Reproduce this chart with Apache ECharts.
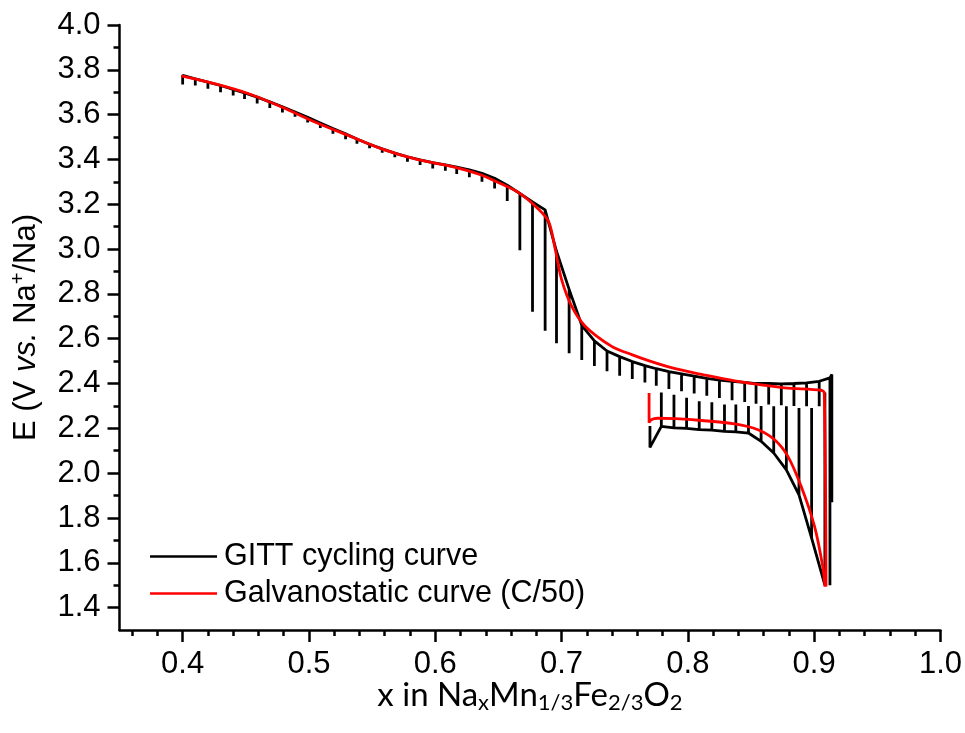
<!DOCTYPE html>
<html>
<head>
<meta charset="utf-8">
<script src="https://cdn.jsdelivr.net/npm/echarts@6/dist/echarts.min.js"></script>
<style>
  html, body { margin: 0; padding: 0; background: #fff; }
  #main { width: 965px; height: 733px; }
</style>
</head>
<body>
<div id="main"></div>
<script>
// GITT charge branch (x decreasing while charging): step positions, end-of-pulse voltage, relaxed voltage
var upX   = [0.400, 0.410, 0.420, 0.430, 0.440, 0.449, 0.459, 0.469, 0.479, 0.489,
             0.499, 0.509, 0.519, 0.529, 0.538, 0.548, 0.558, 0.568, 0.578, 0.588,
             0.598, 0.608, 0.617, 0.627, 0.637, 0.647, 0.657, 0.667, 0.677, 0.687,
             0.696, 0.706, 0.716, 0.726, 0.736, 0.746, 0.756, 0.766, 0.775, 0.785,
             0.795, 0.805, 0.815, 0.825, 0.835, 0.845, 0.854, 0.864, 0.874, 0.884,
             0.894, 0.904, 0.9125, 0.914];
var upTop = [3.775, 3.760, 3.745, 3.730, 3.713, 3.697, 3.678, 3.657, 3.635, 3.612,
             3.588, 3.563, 3.538, 3.514, 3.491, 3.468, 3.447, 3.428, 3.412, 3.398,
             3.386, 3.376, 3.366, 3.354, 3.338, 3.316, 3.285, 3.248, 3.210, 3.175,
             2.990, 2.820, 2.660, 2.590, 2.545, 2.520, 2.498, 2.480, 2.466, 2.453,
             2.443, 2.433, 2.423, 2.415, 2.410, 2.405, 2.400, 2.400, 2.398, 2.400,
             2.403, 2.410, 2.425, 2.440];
var upBot = [3.735, 3.730, 3.715, 3.700, 3.685, 3.670, 3.650, 3.630, 3.610, 3.590,
             3.565, 3.540, 3.515, 3.490, 3.470, 3.450, 3.430, 3.410, 3.390, 3.375,
             3.360, 3.350, 3.335, 3.320, 3.300, 3.270, 3.215, 2.995, 2.720, 2.635,
             2.580, 2.535, 2.505, 2.478, 2.455, 2.435, 2.420, 2.405, 2.390, 2.375,
             2.365, 2.355, 2.345, 2.335, 2.325, 2.318, 2.310, 2.306, 2.303, 2.300,
             2.298, 2.298, 1.500, 1.870];

// GITT discharge branch starting from x = 0.77
var loX   = [0.770, 0.779, 0.789, 0.799, 0.809, 0.819, 0.829, 0.838, 0.848, 0.858,
             0.868, 0.878, 0.888, 0.898, 0.9085];
var loTop = [2.210, 2.360, 2.350, 2.336, 2.321, 2.316, 2.306, 2.306, 2.300, 2.300,
             2.298, 2.298, 2.291, 2.291, 2.360];
var loBot = [2.115, 2.209, 2.202, 2.200, 2.194, 2.192, 2.186, 2.184, 2.179, 2.142,
             2.090, 2.015, 1.903, 1.710, 1.500];

// galvanostatic C/50 curves
var galvX1 = [0.399, 0.4267, 0.453, 0.4793, 0.5056, 0.532, 0.5582, 0.5846, 0.611, 0.6346,
              0.6487, 0.666, 0.682, 0.690, 0.695, 0.700, 0.708, 0.7187, 0.7397, 0.7556,
              0.770, 0.790, 0.810, 0.837, 0.8766, 0.9055, 0.908, 0.9094];
var galvY1 = [3.773, 3.736, 3.692, 3.632, 3.565, 3.505, 3.446, 3.401, 3.371, 3.334,
              3.300, 3.252, 3.177, 3.120, 2.999, 2.865, 2.745, 2.656, 2.566, 2.529,
              2.500, 2.466, 2.442, 2.412, 2.381, 2.370, 2.358, 1.494];
var galvX2 = [0.7693, 0.7693, 0.771, 0.776, 0.790, 0.8108, 0.837, 0.8555, 0.8687, 0.8792,
              0.8897, 0.9003, 0.9068, 0.9086];
var galvY2 = [2.358, 2.225, 2.238, 2.245, 2.243, 2.235, 2.220, 2.194, 2.149, 2.075,
              1.941, 1.762, 1.583, 1.494];

var xMajor = [0.4, 0.5, 0.6, 0.7, 0.8, 0.9, 1.0];
var xMinor = [0.36, 0.38, 0.42, 0.44, 0.46, 0.48, 0.52, 0.54, 0.56, 0.58, 0.62, 0.64, 0.66, 0.68,
              0.72, 0.74, 0.76, 0.78, 0.82, 0.84, 0.86, 0.88, 0.92, 0.94, 0.96, 0.98];
var yMajor = [1.4, 1.6, 1.8, 2.0, 2.2, 2.4, 2.6, 2.8, 3.0, 3.2, 3.4, 3.6, 3.8, 4.0];
var yMinor = [1.5, 1.7, 1.9, 2.1, 2.3, 2.5, 2.7, 2.9, 3.1, 3.3, 3.5, 3.7, 3.9];

function zip(xs, ys) {
  var out = [];
  for (var i = 0; i < xs.length; i++) out.push([xs[i], ys[i]]);
  return out;
}

// comb: envelope with the relaxation drawn as a vertical at each step
function upperPath() {
  var out = [];
  for (var i = 0; i < upX.length; i++) {
    out.push([upX[i], upTop[i]]);
    out.push([upX[i], upBot[i]]);
    out.push([upX[i], upTop[i]]);
  }
  return out;
}
function lowerPath() {
  var out = [];
  for (var i = 0; i < loX.length; i++) {
    out.push([loX[i], loBot[i]]);
    out.push([loX[i], loTop[i]]);
    out.push([loX[i], loBot[i]]);
  }
  return out;
}

var FONT = 'Liberation Sans, Arial, sans-serif';
var chart = echarts.init(document.getElementById('main'));

var axisCommon = {
  type: 'value',
  splitLine: { show: false },
  axisLine: { show: true, onZero: false, lineStyle: { color: '#000', width: 2.5 } }
};

var option = {
  animation: false,
  backgroundColor: '#fff',
  grid: { left: 119.5, right: 24.3, top: 25, bottom: 103 },
  legend: {
    orient: 'vertical',
    left: 145,
    top: 536,
    icon: 'rect',
    itemWidth: 67,
    itemHeight: 2.5,
    itemGap: 6,
    data: ['GITT cycling curve', 'Galvanostatic curve (C/50)'],
    textStyle: { fontFamily: FONT, fontSize: 30.5, color: '#000', padding: [0, 0, 0, 2] }
  },
  xAxis: [
    Object.assign({}, axisCommon, {
      min: 0.35, max: 1.0,
      position: 'bottom',
      axisTick: { show: true, length: 12, lineStyle: { color: '#000', width: 2.5 }, customValues: xMajor },
      axisLabel: { show: true, margin: 19, fontFamily: FONT, fontSize: 31, color: '#000',
                   customValues: xMajor, formatter: function (v) { return v.toFixed(1); } },
      name: '{t|x in Na}{s|x}{t|Mn}{s|1/3}{t|Fe}{s|2/3}{t|O}{s|2}',
      nameLocation: 'middle',
      nameMoveOverlap: false,
      nameGap: 46,
      nameTextStyle: {
        rich: {
          t: { fontFamily: 'Lato, sans-serif', fontSize: 33, color: '#000' },
          s: { fontFamily: 'Lato, sans-serif', fontSize: 22, color: '#000', padding: [16, 0, 0, 0] }
        }
      }
    }),
    Object.assign({}, axisCommon, {
      min: 0.35, max: 1.0,
      position: 'bottom',
      axisLine: { show: false },
      axisTick: { show: true, length: 6, lineStyle: { color: '#000', width: 2.5 }, customValues: xMinor },
      axisLabel: { show: false }
    })
  ],
  yAxis: [
    Object.assign({}, axisCommon, {
      min: 1.3, max: 4.0,
      position: 'left',
      axisTick: { show: true, length: 12, lineStyle: { color: '#000', width: 2.5 }, customValues: yMajor },
      axisLabel: { show: true, margin: 19, fontFamily: FONT, fontSize: 31, color: '#000',
                   customValues: yMajor, formatter: function (v) { return v.toFixed(1); } },
      name: '{t|E (V }{i|vs.}{t| Na}{p|+}{t|/Na)}',
      nameLocation: 'middle',
      nameRotate: 90,
      nameGap: 76,
      nameTextStyle: {
        rich: {
          t: { fontFamily: FONT, fontSize: 31, color: '#000' },
          i: { fontFamily: FONT, fontSize: 31, color: '#000', fontStyle: 'italic' },
          p: { fontFamily: FONT, fontSize: 20, color: '#000', padding: [0, 0, 15, 0] }
        }
      }
    }),
    Object.assign({}, axisCommon, {
      min: 1.3, max: 4.0,
      position: 'left',
      axisLine: { show: false },
      axisTick: { show: true, length: 6, lineStyle: { color: '#000', width: 2.5 }, customValues: yMinor },
      axisLabel: { show: false }
    })
  ],
  series: [
    {
      name: 'GITT cycling curve', type: 'line', showSymbol: false, symbol: 'none',
      data: upperPath(),
      lineStyle: { color: '#000', width: 2.8 }, itemStyle: { color: '#000' }
    },
    {
      name: 'GITT cycling curve', type: 'line', showSymbol: false, symbol: 'none',
      data: lowerPath(),
      lineStyle: { color: '#000', width: 2.8 }, itemStyle: { color: '#000' }
    },
    {
      name: 'Galvanostatic curve (C/50)', type: 'line', showSymbol: false, symbol: 'none',
      data: zip(galvX1, galvY1), smooth: 0.3,
      lineStyle: { color: '#ff0000', width: 2.8 }, itemStyle: { color: '#ff0000' }
    },
    {
      name: 'Galvanostatic curve (C/50)', type: 'line', showSymbol: false, symbol: 'none',
      data: zip(galvX2, galvY2), smooth: 0.3,
      lineStyle: { color: '#ff0000', width: 2.8 }, itemStyle: { color: '#ff0000' }
    }
  ]
};

option && chart.setOption(option);
</script>
</body>
</html>
